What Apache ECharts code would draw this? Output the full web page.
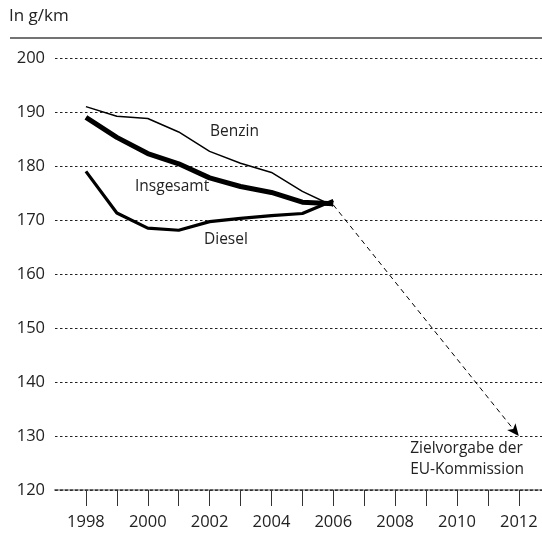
<!DOCTYPE html>
<html><head><meta charset="utf-8">
<script src="https://cdn.jsdelivr.net/npm/echarts@6/dist/echarts.min.js"></script>
<style>html,body{margin:0;padding:0;background:#fff}#c{width:542px;height:536px}</style>
</head><body><div id="c"></div>
<script>
const years = [1998,1999,2000,2001,2002,2003,2004,2005,2006];
const benzin = [191,189.2,188.8,186.3,182.7,180.5,178.8,175.3,172.6];
const insgesamt = [189,185.3,182.3,180.4,177.8,176.2,175.1,173.3,173];
const diesel = [179,171.3,168.5,168.1,169.7,170.3,170.8,171.2,173.6];
const targetFrom = [2006,172.8];
const targetTo = [2012,130];
const yTicks = [120,130,140,150,160,170,180,190,200];
const xTickYears = [1998,1999,2000,2001,2002,2003,2004,2005,2006,2007,2008,2009,2010,2011,2012];
const xLabelYears = [1998,2000,2002,2004,2006,2008,2010,2012];
const unitLabel = 'In g/km';
const labels = {benzin:'Benzin', insgesamt:'Insgesamt', diesel:'Diesel', target:'Zielvorgabe der\nEU-Kommission'};

const font = 'Open Sans';
const chart = echarts.init(document.getElementById('c'), null, {renderer:'canvas'});
const pair = (arr) => years.map((y,i)=>[y,arr[i]]);
chart.setOption({
  animation:false,
  textStyle:{fontFamily:font},
  grid:{left:55,right:0,top:58,bottom:46,containLabel:false},
  xAxis:{type:'value',min:1997,max:2012.75,
    axisLine:{show:true,lineStyle:{color:'#333',width:1.5,type:[3,2]}},
    axisTick:{show:true,inside:false,length:16,lineStyle:{color:'#333',width:1},customValues:xTickYears},
    axisLabel:{customValues:xLabelYears,color:'#222',fontSize:16.5,margin:24,fontFamily:font,formatter:v=>String(v)},
    splitLine:{show:false}},
  yAxis:{type:'value',min:120,max:200,interval:10,
    axisLine:{show:false},axisTick:{show:false},
    axisLabel:{color:'#222',fontSize:16.5,margin:10,fontFamily:font,customValues:yTicks},
    splitLine:{show:true,lineStyle:{color:'#222',width:1,type:[2.5,2.5]}}},
  series:[
    {type:'line',data:pair(benzin),symbol:'none',lineStyle:{color:'#000',width:1.5}},
    {type:'line',data:pair(insgesamt),symbol:'none',lineStyle:{color:'#000',width:5}},
    {type:'line',data:pair(diesel),symbol:'none',lineStyle:{color:'#000',width:3.2}},
    {type:'line',data:[],markLine:{silent:true,symbol:['none','arrow'],symbolSize:[8,12],
      lineStyle:{color:'#000',width:1,type:[5,4]},label:{show:false},
      data:[[{coord:targetFrom},{coord:targetTo}]]}}
  ],
  graphic:[
    {type:'text',left:9,top:8,style:{text:unitLabel,fontSize:17,fill:'#222',fontFamily:font}},
    {type:'line',shape:{x1:10,y1:38,x2:542,y2:38},style:{stroke:'#444',lineWidth:1.5}},
    {type:'text',left:210,top:124,style:{text:labels.benzin,fontSize:15.5,fill:'#222',fontFamily:font}},
    {type:'text',left:135,top:179,style:{text:labels.insgesamt,fontSize:15.5,fill:'#222',fontFamily:font}},
    {type:'text',left:204,top:232,style:{text:labels.diesel,fontSize:15.5,fill:'#222',fontFamily:font}},
    {type:'text',right:18,top:438,style:{text:labels.target,fontSize:15.5,fill:'#222',fontFamily:font,align:'right',lineHeight:21}}
  ]
});
</script></body></html>
